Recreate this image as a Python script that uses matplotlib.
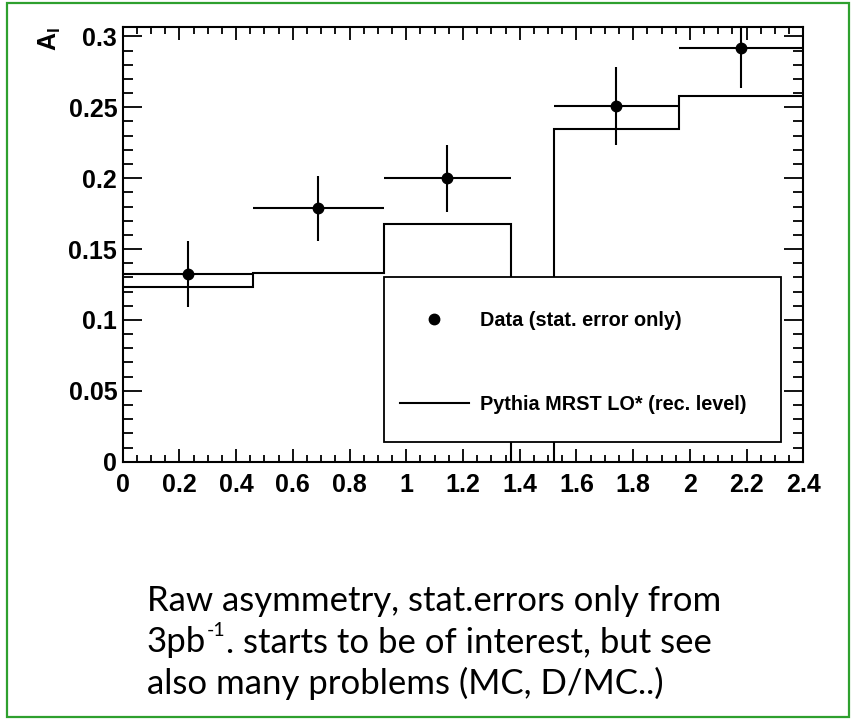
import matplotlib
matplotlib.use("Agg")
import matplotlib.pyplot as plt
from matplotlib.patches import Rectangle
from matplotlib.lines import Line2D
from matplotlib.ticker import MultipleLocator
import numpy as np

# ---- data ----
bin_edges = [0.0, 0.46, 0.92, 1.37, 1.52, 1.96, 2.4]
mc_values = [0.123, 0.1333, 0.1677, 0.0, 0.2349, 0.258]
data_x = [0.23, 0.69, 1.145, 1.74, 2.18]
data_xlo = [0.0, 0.46, 0.92, 1.52, 1.96]
data_xhi = [0.46, 0.92, 1.37, 1.96, 2.4]
data_y = [0.1324, 0.1788, 0.1999, 0.2509, 0.2916]
data_yerr = [0.023, 0.023, 0.0235, 0.0276, 0.028]
x_ticks = [0, 0.2, 0.4, 0.6, 0.8, 1, 1.2, 1.4, 1.6, 1.8, 2, 2.2, 2.4]
x_ticklabels = ["0", "0.2", "0.4", "0.6", "0.8", "1", "1.2", "1.4", "1.6", "1.8", "2", "2.2", "2.4"]
y_ticks = [0, 0.05, 0.1, 0.15, 0.2, 0.25, 0.3]
y_ticklabels = ["0", "0.05", "0.1", "0.15", "0.2", "0.25", "0.3"]
legend_labels = ["Data (stat. error only)", "Pythia MRST LO* (rec. level)"]
caption_line1 = "Raw asymmetry, stat.errors only from"
caption_line2 = ["3pb", "-1", ". starts to be of interest, but see"]
caption_line3 = "also many problems (MC, D/MC..)"

W, H = 854, 720
fig = plt.figure(figsize=(W / 100, H / 100), dpi=100)

# green border around slide region
fig.patches.append(Rectangle((7 / W, 3 / H), (849 - 7) / W, (717 - 3) / H,
                             transform=fig.transFigure, fill=False,
                             edgecolor="#2EA02E", linewidth=1.6, zorder=0))

ax_l, ax_r, ax_t, ax_b = 122.7, 803.3, 27.3, 461.7
ax = fig.add_axes([ax_l / W, 1 - ax_b / H, (ax_r - ax_l) / W, (ax_b - ax_t) / H])

lw = 1.5
# MC histogram
ax.stairs(mc_values, bin_edges, baseline=None, color="black", linewidth=lw, zorder=2)

# data points
xerr = [np.array(data_x) - np.array(data_xlo), np.array(data_xhi) - np.array(data_x)]
ax.errorbar(data_x, data_y, xerr=xerr, yerr=data_yerr, fmt="o", color="black",
            markersize=7.5, elinewidth=lw, capsize=0, zorder=3, clip_on=True)

ax.set_xlim(0, 2.4)
ax.set_ylim(0, 0.3064)

tickfont = dict(family="Liberation Sans", weight="bold", size=18)
ax.set_xticks(x_ticks)
ax.set_xticklabels(x_ticklabels, **tickfont)
ax.set_yticks(y_ticks)
ax.set_yticklabels(y_ticklabels, **tickfont)
ax.xaxis.set_minor_locator(MultipleLocator(0.05))
ax.yaxis.set_minor_locator(MultipleLocator(0.01))
ax.tick_params(axis="x", which="major", direction="in", top=True, bottom=True,
               length=9.7, width=1.3, pad=8)
ax.tick_params(axis="x", which="minor", direction="in", top=True, bottom=True,
               length=5, width=1.3)
ax.tick_params(axis="y", which="major", direction="in", left=True, right=True,
               length=13.5, width=1.3, pad=4)
ax.tick_params(axis="y", which="minor", direction="in", left=True, right=True,
               length=7.5, width=1.3)
for s in ax.spines.values():
    s.set_linewidth(1.5)

# legend box
lx0 = (384 - ax_l) / (ax_r - ax_l)
lx1 = (780.7 - ax_l) / (ax_r - ax_l)
ly1 = (ax_b - 276.7) / (ax_b - ax_t)
ly0 = (ax_b - 441.7) / (ax_b - ax_t)
ax.add_patch(Rectangle((lx0, ly0), lx1 - lx0, ly1 - ly0, transform=ax.transAxes,
                       facecolor="white", edgecolor="black", linewidth=1.3, zorder=4))
handles = [
    Line2D([], [], marker="o", linestyle="none", color="black", markersize=7.5),
    Line2D([], [], color="black", linewidth=lw),
]
leg = ax.legend(handles, legend_labels, frameon=False, loc="upper left",
                bbox_to_anchor=((400 - ax_l) / (ax_r - ax_l), (ax_b - 311) / (ax_b - ax_t)),
                borderpad=0, borderaxespad=0, handlelength=3.45, handletextpad=0.6,
                labelspacing=3.25, prop=dict(family="Liberation Sans", weight="bold", size=14.3))
leg.set_zorder(5)

# y-axis title at top
fig.text(50 / W, 1 - 27 / H, r"$\mathregular{A}_\mathregular{l}$", rotation=90,
         ha="center", va="top", family="Liberation Sans", weight="bold", size=18)

# caption
cap = dict(family="Lato", size=25, color="black")
cx = 147 / W
fig.text(cx, 1 - 601 / H, caption_line1, ha="left", va="center", **cap)
t1 = fig.text(cx, 1 - 642 / H, caption_line2[0], ha="left", va="center", **cap)
t2 = fig.add_artist(matplotlib.text.Annotation(
    caption_line2[1], xy=(1.0, 0.0), xycoords=t1, xytext=(0.5, 14),
    textcoords="offset points", ha="left", va="bottom",
    family="Lato", size=14, color="black"))
t3 = fig.add_artist(matplotlib.text.Annotation(
    caption_line2[2], xy=(1.0, 0.0), xycoords=(t2, t1), ha="left", va="bottom", **cap))
fig.text(cx, 1 - 683 / H, caption_line3, ha="left", va="center", **cap)

fig.savefig("out.png", dpi=100)
